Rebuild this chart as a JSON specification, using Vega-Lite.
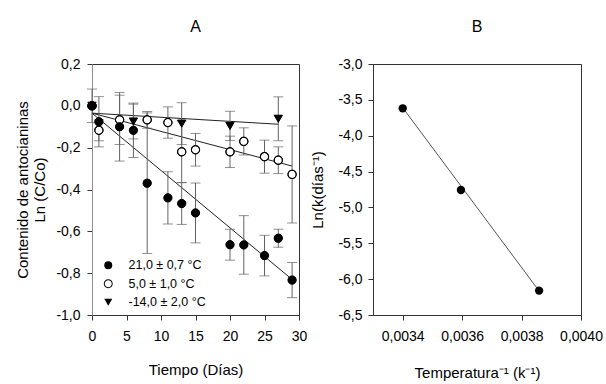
{
 "$schema": "https://vega.github.io/schema/vega-lite/v6.json",
 "background": "white",
 "padding": {"left": 15, "top": 18, "right": 5, "bottom": 0},
 "bounds": "flush",
 "spacing": 74,
 "config": {
   "font": "Liberation Sans",
   "locale": {"number": {"decimal": ",", "thousands": ".", "grouping": [3], "currency": ["", "€"], "minus": "-"}},
   "view": {"stroke": "#333", "strokeWidth": 1},
   "axis": {"grid": false, "labelOverlap": false, "labelFlush": false, "labelFontSize": 14, "labelColor": "#000", "titleFontSize": 15, "titleFontWeight": "normal", "titleColor": "#000", "domainColor": "#333", "tickColor": "#333", "tickSize": 5, "labelFont": "Liberation Sans", "titleFont": "Liberation Sans"},
   "legend": {"title": null, "orient": "none", "legendX": 10, "legendY": 195, "labelFontSize": 12.5, "labelFont": "Liberation Sans", "labelColor": "#000", "symbolSize": 64, "symbolStrokeWidth": 0, "rowPadding": 5.5, "labelOffset": 14, "padding": 0},
   "title": {"fontSize": 16, "fontWeight": "normal", "font": "Liberation Sans", "color": "#000", "offset": 22}
 },
 "datasets": {
   "a": [
     {"s": "5,0 ± 1,0 °C", "day": 0, "v": 0, "e": 0},
     {"s": "5,0 ± 1,0 °C", "day": 1, "v": -0.117, "e": 0.05},
     {"s": "5,0 ± 1,0 °C", "day": 4, "v": -0.067, "e": 0.118},
     {"s": "5,0 ± 1,0 °C", "day": 8, "v": -0.067, "e": 0.04},
     {"s": "5,0 ± 1,0 °C", "day": 11, "v": -0.08, "e": 0.075},
     {"s": "5,0 ± 1,0 °C", "day": 13, "v": -0.22, "e": 0.147},
     {"s": "5,0 ± 1,0 °C", "day": 15, "v": -0.21, "e": 0.078},
     {"s": "5,0 ± 1,0 °C", "day": 20, "v": -0.22, "e": 0.075},
     {"s": "5,0 ± 1,0 °C", "day": 22, "v": -0.17, "e": 0.065},
     {"s": "5,0 ± 1,0 °C", "day": 25, "v": -0.243, "e": 0.079},
     {"s": "5,0 ± 1,0 °C", "day": 27, "v": -0.26, "e": 0.064},
     {"s": "5,0 ± 1,0 °C", "day": 29, "v": -0.328, "e": 0.232},
     {"s": "21,0 ± 0,7 °C", "day": 0, "v": 0, "e": 0},
     {"s": "21,0 ± 0,7 °C", "day": 1, "v": -0.076, "e": 0.12},
     {"s": "21,0 ± 0,7 °C", "day": 4, "v": -0.1, "e": 0.164},
     {"s": "21,0 ± 0,7 °C", "day": 6, "v": -0.117, "e": 0.13},
     {"s": "21,0 ± 0,7 °C", "day": 8, "v": -0.37, "e": 0.336},
     {"s": "21,0 ± 0,7 °C", "day": 11, "v": -0.44, "e": 0.125},
     {"s": "21,0 ± 0,7 °C", "day": 13, "v": -0.467, "e": 0.1},
     {"s": "21,0 ± 0,7 °C", "day": 15, "v": -0.512, "e": 0.143},
     {"s": "21,0 ± 0,7 °C", "day": 20, "v": -0.664, "e": 0.074},
     {"s": "21,0 ± 0,7 °C", "day": 22, "v": -0.665, "e": 0.14},
     {"s": "21,0 ± 0,7 °C", "day": 25, "v": -0.716, "e": 0.097},
     {"s": "21,0 ± 0,7 °C", "day": 27, "v": -0.633, "e": 0.043},
     {"s": "21,0 ± 0,7 °C", "day": 29, "v": -0.833, "e": 0.084},
     {"s": "-14,0 ± 2,0 °C", "day": 0, "v": 0.0, "e": 0.08},
     {"s": "-14,0 ± 2,0 °C", "day": 6, "v": -0.075, "e": 0.083},
     {"s": "-14,0 ± 2,0 °C", "day": 13, "v": -0.085, "e": 0.1},
     {"s": "-14,0 ± 2,0 °C", "day": 20, "v": -0.096, "e": 0.07},
     {"s": "-14,0 ± 2,0 °C", "day": 27, "v": -0.062, "e": 0.105}
   ],
   "afit": [
     {"s": "21,0 ± 0,7 °C", "day": 0, "v": -0.035},
     {"s": "21,0 ± 0,7 °C", "day": 29, "v": -0.83},
     {"s": "5,0 ± 1,0 °C", "day": 0, "v": -0.035},
     {"s": "5,0 ± 1,0 °C", "day": 29, "v": -0.288},
     {"s": "-14,0 ± 2,0 °C", "day": 0, "v": -0.035},
     {"s": "-14,0 ± 2,0 °C", "day": 27, "v": -0.088}
   ],
   "b": [
     {"t": 0.0034, "lnk": -3.618},
     {"t": 0.003596, "lnk": -4.757},
     {"t": 0.003859, "lnk": -6.16}
   ],
   "bfit": [
     {"t": 0.0034, "lnk": -3.61},
     {"t": 0.003859, "lnk": -6.165}
   ]
 },
 "resolve": {"legend": {"shape": "independent", "fill": "independent"}},
 "hconcat": [
   {
     "width": 207, "height": 251,
     "title": "A",
     "resolve": {"scale": {"shape": "independent"}, "legend": {"shape": "independent"}},
     "encoding": {
       "x": {"field": "day", "type": "quantitative", "title": "Tiempo (Días)",
             "scale": {"domain": [0, 30], "nice": false, "zero": false, "padding": 0},
             "axis": {"values": [0, 5, 10, 15, 20, 25, 30], "format": "d", "title": "Tiempo (Días)", "labelPadding": 9, "titlePadding": 19}},
       "y": {"field": "v", "type": "quantitative", "title": ["Contenido de antocianinas", "Ln (C/Co)"],
             "scale": {"domain": [-1.0, 0.2], "nice": false, "zero": false, "padding": 0},
             "axis": {"values": [-1.0, -0.8, -0.6, -0.4, -0.2, 0.0, 0.2], "format": ".1f", "title": ["Contenido de antocianinas", "Ln (C/Co)"], "titleLineHeight": 17, "labelPadding": 7, "titlePadding": 8, "domainColor": "#909090"}}
     },
     "layer": [
       {
         "data": {"name": "afit"},
         "mark": {"type": "line", "color": "#222", "strokeWidth": 1},
         "encoding": {"detail": {"field": "s"}}
       },
       {
         "data": {"name": "a"},
         "transform": [{"filter": "datum.e > 0"}],
         "mark": {"type": "errorbar", "color": "#636363", "ticks": {"size": 10, "color": "#636363"}},
         "encoding": {
           "yError": {"field": "e"}
         }
       },
       {
         "data": {"name": "a"},
         "mark": {"type": "point", "filled": true, "stroke": "black", "size": 68, "strokeWidth": 1, "opacity": 1},
         "encoding": {
           "shape": {"field": "s", "type": "nominal", "legend": null,
                     "scale": {"domain": ["21,0 ± 0,7 °C", "5,0 ± 1,0 °C", "-14,0 ± 2,0 °C"], "range": ["circle", "circle", "triangle-down"]}},
           "fill": {"field": "s", "type": "nominal", "legend": null,
                    "scale": {"domain": ["21,0 ± 0,7 °C", "5,0 ± 1,0 °C", "-14,0 ± 2,0 °C"], "range": ["black", "white", "black"]}}
         }
       },
       {
         "data": {"name": "a"},
         "mark": {"type": "point", "filled": true, "color": "black", "size": 68, "strokeWidth": 0, "opacity": 1},
         "encoding": {
           "shape": {"field": "s", "type": "nominal",
                     "scale": {"domain": ["21,0 ± 0,7 °C", "5,0 ± 1,0 °C", "-14,0 ± 2,0 °C"],
                               "range": ["circle", "M -1.12 0 A 1.12 1.12 0 1 0 1.12 0 A 1.12 1.12 0 1 0 -1.12 0 Z M -0.88 0 A 0.88 0.88 0 1 1 0.88 0 A 0.88 0.88 0 1 1 -0.88 0 Z", "triangle-down"]}}
         }
       }
     ]
   },
   {
     "width": 208, "height": 251,
     "title": "B",
     "encoding": {
       "x": {"field": "t", "type": "quantitative", "title": "Temperatura⁻¹ (k⁻¹)",
             "scale": {"domain": [0.0033, 0.004], "nice": false, "zero": false, "padding": 0},
             "axis": {"values": [0.0034, 0.0036, 0.0038, 0.004], "format": ".4f", "labelPadding": 9, "titlePadding": 22}},
       "y": {"field": "lnk", "type": "quantitative", "title": "Ln(k(días⁻¹)",
             "scale": {"domain": [-6.5, -3.0], "nice": false, "zero": false, "padding": 0},
             "axis": {"values": [-6.5, -6.0, -5.5, -5.0, -4.5, -4.0, -3.5, -3.0], "format": ".1f", "labelPadding": 6, "titlePadding": 12}}
     },
     "layer": [
       {
         "data": {"name": "bfit"},
         "mark": {"type": "line", "color": "#555", "strokeWidth": 1},
         "encoding": {}
       },
       {
         "data": {"name": "b"},
         "mark": {"type": "point", "filled": true, "size": 70, "color": "black", "opacity": 1},
         "encoding": {}
       }
     ]
   }
 ]
}
